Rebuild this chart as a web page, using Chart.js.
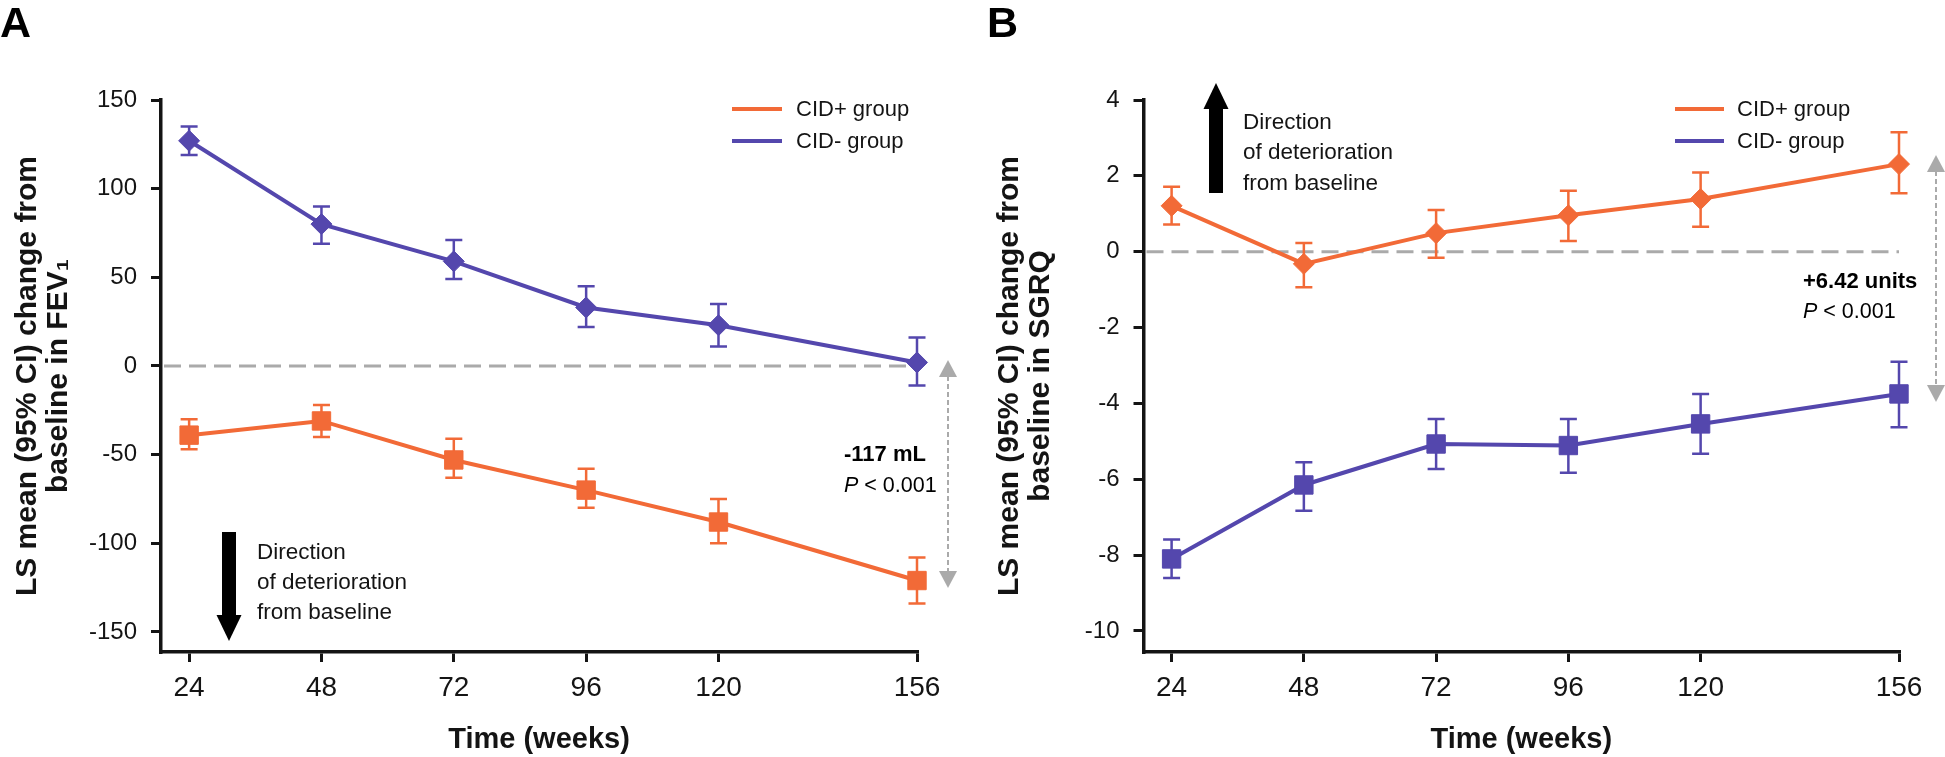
<!DOCTYPE html>
<html>
<head>
<meta charset="utf-8">
<script src="https://cdn.jsdelivr.net/npm/chart.js@4"></script>
<style>
  html, body { margin: 0; padding: 0; background: #fff; }
  body { width: 1945px; height: 757px; position: relative; overflow: hidden; }
  .panel { position: absolute; top: 0; height: 757px; }
  #panelA { left: 0; width: 975px; }
  #panelB { left: 975px; width: 970px; }
</style>
</head>
<body>
<div class="panel" id="panelA"><canvas id="chartA"></canvas></div>
<div class="panel" id="panelB"><canvas id="chartB"></canvas></div>
<script>
// weeks on the x axis
const weeks = [24, 48, 72, 96, 120, 156];
const xTicks = [24, 48, 72, 96, 120, 156];
const fevTicks = [-150, -100, -50, 0, 50, 100, 150];
const sgrqTicks = [-10, -8, -6, -4, -2, 0, 2, 4];

// A: FEV1 change (mL), LS mean and 95% CI
const fevPlus = [-39, -31, -53, -70, -88, -121];
const fevPlusLo = [-47, -40, -63, -80, -100, -134];
const fevPlusHi = [-30, -22, -41, -58, -75, -108];
const fevMinus = [127, 80, 59, 33, 23, 2];
const fevMinusLo = [119, 69, 49, 22, 11, -11];
const fevMinusHi = [135, 90, 71, 45, 35, 16];

// B: SGRQ change (units), LS mean and 95% CI
const sgrqPlus = [1.21, -0.32, 0.49, 0.96, 1.39, 2.31];
const sgrqPlusLo = [0.72, -0.94, -0.16, 0.28, 0.66, 1.54];
const sgrqPlusHi = [1.71, 0.23, 1.10, 1.61, 2.09, 3.15];
const sgrqMinus = [-8.10, -6.15, -5.07, -5.11, -4.54, -3.75];
const sgrqMinusLo = [-8.60, -6.83, -5.73, -5.83, -5.33, -4.63];
const sgrqMinusHi = [-7.59, -5.55, -4.41, -4.41, -3.75, -2.90];

const ORANGE = '#f26a37';
const PURPLE = '#5447ad';
const GREY = '#aaaaaa';
const INK = '#141414';
const FONT = '"Liberation Sans", Arial, Helvetica, sans-serif';

Chart.defaults.font.family = FONT;
Chart.defaults.color = INK;

function series(label, ys, lo, hi, color, shape) {
  return {
    label: label,
    data: weeks.map((w, i) => ({ x: w, y: ys[i] })),
    errLo: lo,
    errHi: hi,
    borderColor: color,
    backgroundColor: color,
    borderWidth: 4,
    pointStyle: shape,
    pointRadius: shape === 'rect' ? 13 : 10.5,
    pointBorderWidth: 1,
    pointBackgroundColor: color,
    pointBorderColor: color,
    tension: 0,
    clip: false
  };
}

// error bars + zero line, drawn under the lines
const underlay = {
  id: 'underlay',
  beforeDatasetsDraw(chart) {
    const ctx = chart.ctx;
    const xs = chart.scales.x, ys = chart.scales.y;
    ctx.save();
    // dashed zero reference
    ctx.strokeStyle = GREY;
    ctx.lineWidth = 3;
    ctx.setLineDash([17, 8]);
    ctx.beginPath();
    ctx.moveTo(chart.chartArea.left + 3, ys.getPixelForValue(0));
    ctx.lineTo(xs.getPixelForValue(156), ys.getPixelForValue(0));
    ctx.stroke();
    ctx.setLineDash([]);
    chart.data.datasets.forEach(ds => {
      ctx.strokeStyle = ds.borderColor;
      ctx.lineWidth = 2.5;
      ds.data.forEach((p, i) => {
        const x = xs.getPixelForValue(p.x);
        const y1 = ys.getPixelForValue(ds.errLo[i]);
        const y2 = ys.getPixelForValue(ds.errHi[i]);
        ctx.beginPath();
        ctx.moveTo(x, y1); ctx.lineTo(x, y2);
        ctx.moveTo(x - 8.5, y1); ctx.lineTo(x + 8.5, y1);
        ctx.moveTo(x - 8.5, y2); ctx.lineTo(x + 8.5, y2);
        ctx.stroke();
      });
    });
    ctx.restore();
  }
};

function makeDecor(d) {
  return {
    id: 'decor',
    afterDraw(chart) {
      const ctx = chart.ctx;
      ctx.save();
      // panel letter
      ctx.fillStyle = '#000';
      ctx.font = 'bold 43px ' + FONT;
      ctx.textBaseline = 'alphabetic';
      ctx.textAlign = 'left';
      ctx.fillText(d.letter, d.letterX, 37);

      // legend
      ctx.font = '22px ' + FONT;
      ctx.textBaseline = 'middle';
      chart.data.datasets.forEach((ds, i) => {
        ctx.strokeStyle = ds.borderColor;
        ctx.lineWidth = 4;
        ctx.beginPath();
        ctx.moveTo(d.legend.x1, d.legend.y[i]);
        ctx.lineTo(d.legend.x2, d.legend.y[i]);
        ctx.stroke();
        ctx.fillStyle = INK;
        ctx.fillText(ds.label, d.legend.tx, d.legend.y[i] + 1);
      });

      // direction of deterioration arrow
      const a = d.dir;
      ctx.fillStyle = '#000';
      ctx.beginPath();
      ctx.rect(a.x - 7, Math.min(a.shaftEnd, a.headBase), 14, Math.abs(a.shaftEnd - a.headBase));
      ctx.fill();
      ctx.beginPath();
      ctx.moveTo(a.x - 12.5, a.headBase);
      ctx.lineTo(a.x + 12.5, a.headBase);
      ctx.lineTo(a.x, a.tip);
      ctx.closePath();
      ctx.fill();
      ctx.font = '22.5px ' + FONT;
      ctx.fillStyle = INK;
      ['Direction', 'of deterioration', 'from baseline'].forEach((t, i) => {
        ctx.fillText(t, d.dirText.x, d.dirText.y[i]);
      });

      // difference arrow (grey, dashed, two heads)
      const g = d.diff;
      ctx.strokeStyle = GREY;
      ctx.fillStyle = GREY;
      ctx.lineWidth = 2;
      ctx.setLineDash([5, 3]);
      ctx.beginPath();
      ctx.moveTo(g.x, g.top + 16);
      ctx.lineTo(g.x, g.bottom - 16);
      ctx.stroke();
      ctx.setLineDash([]);
      ctx.beginPath();
      ctx.moveTo(g.x, g.top);
      ctx.lineTo(g.x + 9, g.top + 17);
      ctx.lineTo(g.x - 9, g.top + 17);
      ctx.closePath();
      ctx.fill();
      ctx.beginPath();
      ctx.moveTo(g.x, g.bottom);
      ctx.lineTo(g.x + 9, g.bottom - 17);
      ctx.lineTo(g.x - 9, g.bottom - 17);
      ctx.closePath();
      ctx.fill();

      ctx.fillStyle = '#000';
      ctx.font = 'bold 22px ' + FONT;
      ctx.fillText(d.diffText.label, d.diffText.x, d.diffText.y[0]);
      ctx.font = 'italic 21.5px ' + FONT;
      ctx.fillText('P', d.diffText.x, d.diffText.y[1]);
      const pw = ctx.measureText('P').width;
      ctx.font = '21.5px ' + FONT;
      ctx.fillText(' < 0.001', d.diffText.x + pw, d.diffText.y[1]);
      ctx.restore();
    }
  };
}

function buildChart(id, cfg) {
  const axisLine = { display: true, color: INK, width: 3.5 };
  const tickMarks = { display: true, drawOnChartArea: false, drawTicks: true, tickLength: 10, lineWidth: 3, color: INK };
  return new Chart(document.getElementById(id), {
    type: 'line',
    data: { datasets: cfg.datasets },
    options: {
      responsive: true,
      maintainAspectRatio: false,
      animation: false,
      layout: { padding: { left: 0, right: cfg.padRight, top: 100, bottom: 0 } },
      plugins: { legend: { display: false }, tooltip: { enabled: false } },
      scales: {
        x: {
          type: 'linear',
          min: 18.9,
          max: 156,
          afterBuildTicks: s => { s.ticks = xTicks.map(v => ({ value: v })); },
          afterFit: s => { s.height = 105; },
          grid: tickMarks,
          border: axisLine,
          ticks: { font: { size: 28 }, color: INK, padding: 9, maxRotation: 0, autoSkip: false, callback: v => String(v) },
          title: { display: true, text: 'Time (weeks)', color: INK, font: { size: 29, weight: 'bold', lineHeight: 1.2 }, padding: { top: 0, bottom: 0 } }
        },
        y: {
          min: cfg.yMin,
          max: cfg.yMax,
          afterBuildTicks: s => { s.ticks = cfg.yTicks.map(v => ({ value: v })); },
          afterFit: s => { s.width = cfg.yWidth; },
          grid: tickMarks,
          border: axisLine,
          ticks: { font: { size: 24 }, color: INK, padding: 14, callback: v => String(v) },
          title: { display: true, text: cfg.yTitle, color: INK, font: { size: 30, weight: 'bold', lineHeight: 1.03 }, padding: { top: cfg.titlePad, bottom: 0 } }
        }
      }
    },
    plugins: [underlay, makeDecor(cfg.decor)]
  });
}

buildChart('chartA', {
  datasets: [
    series('CID+ group', fevPlus, fevPlusLo, fevPlusHi, ORANGE, 'rect'),
    series('CID- group', fevMinus, fevMinusLo, fevMinusHi, PURPLE, 'rectRot')
  ],
  yMin: -161.3, yMax: 150, yTicks: fevTicks, yWidth: 161, padRight: 58, titlePad: 12,
  yTitle: ['LS mean (95% CI) change from', 'baseline in FEV\u2081'],
  decor: {
    letter: 'A', letterX: 0,
    legend: { x1: 732, x2: 782, tx: 796, y: [109, 141] },
    dir: { x: 229, shaftEnd: 532, headBase: 615, tip: 641 },
    dirText: { x: 257, y: [553, 583, 613] },
    diff: { x: 948, top: 360, bottom: 588 },
    diffText: { x: 844, y: [455, 486], label: '-117 mL' }
  }
});

buildChart('chartB', {
  datasets: [
    series('CID+ group', sgrqPlus, sgrqPlusLo, sgrqPlusHi, ORANGE, 'rectRot'),
    series('CID- group', sgrqMinus, sgrqMinusLo, sgrqMinusHi, PURPLE, 'rect')
  ],
  yMin: -10.554, yMax: 4, yTicks: sgrqTicks, yWidth: 168.5, padRight: 46, titlePad: 19,
  yTitle: ['LS mean (95% CI) change from', 'baseline in SGRQ'],
  decor: {
    letter: 'B', letterX: 12,
    legend: { x1: 700, x2: 749, tx: 762, y: [109, 141] },
    dir: { x: 241, shaftEnd: 193, headBase: 109, tip: 83 },
    dirText: { x: 268, y: [123, 153, 184] },
    diff: { x: 961, top: 155, bottom: 402 },
    diffText: { x: 828, y: [282, 312], label: '+6.42 units' }
  }
});
</script>
</body>
</html>
